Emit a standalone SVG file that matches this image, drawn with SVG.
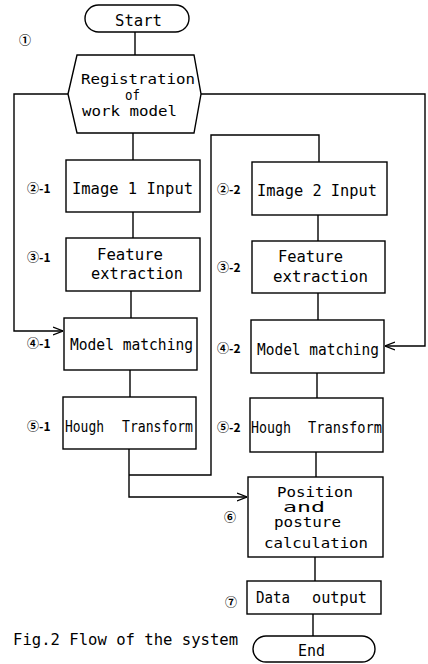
<svg xmlns="http://www.w3.org/2000/svg" width="428" height="664" viewBox="0 0 428 664">
<defs>
<style>
.n{fill:#fff;stroke:#000;stroke-width:1.4}
.c{fill:none;stroke:#000;stroke-width:1.4}
.t{font-family:"DejaVu Sans Mono","Liberation Mono",monospace;font-size:16px;fill:#000}
.s{font-size:13.5px}
.l{font-family:"Noto Sans CJK JP","DejaVu Sans",sans-serif;font-size:12px;font-weight:bold;fill:#000}
</style>
<marker id="ah" viewBox="0 0 10 10" refX="10" refY="5" markerWidth="10" markerHeight="10" markerUnits="userSpaceOnUse" orient="auto">
<polyline points="0,1 10,5 0,9" fill="none" stroke="#000" stroke-width="1.3"/>
</marker>
</defs>
<rect width="428" height="664" fill="#fff"/>
<g id="connectors">
<line class="c" x1="135" y1="32" x2="135" y2="55"/>
<line class="c" x1="133" y1="133" x2="133" y2="160"/>
<line class="c" x1="133" y1="212" x2="133" y2="238"/>
<line class="c" x1="131" y1="291" x2="131" y2="318"/>
<line class="c" x1="130" y1="370" x2="130" y2="397"/>
<polyline class="c" points="68,94 14,94 14,331 63,331" marker-end="url(#ah)"/>
<polyline class="c" points="201,94 425,94 425,346 385,346" marker-end="url(#ah)"/>
<polyline class="c" points="129,449 129,497 247,497" marker-end="url(#ah)"/>
<polyline class="c" points="129,475 211,475 211,135 319,135 319,162"/>
<line class="c" x1="318" y1="215" x2="318" y2="241"/>
<line class="c" x1="318" y1="293" x2="318" y2="320"/>
<line class="c" x1="317" y1="373" x2="317" y2="398"/>
<line class="c" x1="316" y1="452" x2="316" y2="477"/>
<line class="c" x1="315" y1="557" x2="315" y2="581"/>
<line class="c" x1="313" y1="614" x2="313" y2="636"/>
</g>
<g id="start">
<rect class="n" x="85" y="5" width="104" height="27" rx="13.5"/>
<text class="t" x="115" y="26" textLength="47" lengthAdjust="spacingAndGlyphs">Start</text>
</g>
<g id="registration">
<polygon class="n" points="77,55 194,55 201,94 194,133 77,133 68,94"/>
<text class="l" x="25" y="45" text-anchor="middle">①</text>
<text class="t s" x="81" y="84" textLength="114" lengthAdjust="spacingAndGlyphs">Registration</text>
<text class="t s" x="125" y="100" textLength="15" lengthAdjust="spacingAndGlyphs">of</text>
<text class="t s" x="82" y="116" textLength="95" lengthAdjust="spacingAndGlyphs">work model</text>
</g>
<g id="image1">
<rect class="n" x="66" y="160" width="134" height="52"/>
<text class="l" x="27" y="193">②-1</text>
<text class="t" x="72" y="194" textLength="121" lengthAdjust="spacingAndGlyphs">Image 1 Input</text>
</g>
<g id="feature1">
<rect class="n" x="66" y="238" width="134" height="53"/>
<text class="l" x="27" y="262">③-1</text>
<text class="t" x="97" y="260" textLength="66" lengthAdjust="spacingAndGlyphs">Feature</text>
<text class="t" x="91" y="279" textLength="92" lengthAdjust="spacingAndGlyphs">extraction</text>
</g>
<g id="match1">
<rect class="n" x="64" y="318" width="133" height="52"/>
<text class="l" x="27" y="348">④-1</text>
<text class="t" x="70" y="350" textLength="123" lengthAdjust="spacingAndGlyphs">Model matching</text>
</g>
<g id="hough1">
<rect class="n" x="63" y="397" width="133" height="52"/>
<text class="l" x="27" y="431">⑤-1</text>
<text class="t" x="65" y="432" textLength="39" lengthAdjust="spacingAndGlyphs">Hough</text>
<text class="t" x="122" y="432" textLength="71" lengthAdjust="spacingAndGlyphs">Transform</text>
</g>
<g id="image2">
<rect class="n" x="252" y="162" width="135" height="53"/>
<text class="l" x="217" y="194">②-2</text>
<text class="t" x="257" y="196" textLength="120" lengthAdjust="spacingAndGlyphs">Image 2 Input</text>
</g>
<g id="feature2">
<rect class="n" x="252" y="241" width="133" height="52"/>
<text class="l" x="217" y="272">③-2</text>
<text class="t" x="278" y="262" textLength="65" lengthAdjust="spacingAndGlyphs">Feature</text>
<text class="t" x="273" y="282" textLength="95" lengthAdjust="spacingAndGlyphs">extraction</text>
</g>
<g id="match2">
<rect class="n" x="251" y="320" width="133" height="53"/>
<text class="l" x="217" y="353">④-2</text>
<text class="t" x="257" y="355" textLength="122" lengthAdjust="spacingAndGlyphs">Model matching</text>
</g>
<g id="hough2">
<rect class="n" x="250" y="398" width="133" height="54"/>
<text class="l" x="217" y="432">⑤-2</text>
<text class="t" x="251" y="433" textLength="40" lengthAdjust="spacingAndGlyphs">Hough</text>
<text class="t" x="308" y="433" textLength="74" lengthAdjust="spacingAndGlyphs">Transform</text>
</g>
<g id="position">
<rect class="n" x="248" y="477" width="135" height="80"/>
<text class="l" x="230" y="522" text-anchor="middle">⑥</text>
<text class="t s" x="277" y="497" textLength="76" lengthAdjust="spacingAndGlyphs">Position</text>
<text class="t s" x="283" y="512" textLength="42" lengthAdjust="spacingAndGlyphs">and</text>
<text class="t s" x="274" y="527" textLength="67" lengthAdjust="spacingAndGlyphs">posture</text>
<text class="t s" x="264" y="548" textLength="104" lengthAdjust="spacingAndGlyphs">calculation</text>
</g>
<g id="output">
<rect class="n" x="247" y="581" width="134" height="33"/>
<text class="l" x="231" y="607" text-anchor="middle">⑦</text>
<text class="t" x="256" y="603" textLength="34" lengthAdjust="spacingAndGlyphs">Data</text>
<text class="t" x="312" y="603" textLength="55" lengthAdjust="spacingAndGlyphs">output</text>
</g>
<g id="end">
<rect class="n" x="253" y="636" width="122" height="26" rx="13"/>
<text class="t" x="298" y="656" textLength="27" lengthAdjust="spacingAndGlyphs">End</text>
</g>
<g id="caption">
<text class="t" x="13" y="645" textLength="225" lengthAdjust="spacingAndGlyphs">Fig.2 Flow of the system</text>
</g>
</svg>
